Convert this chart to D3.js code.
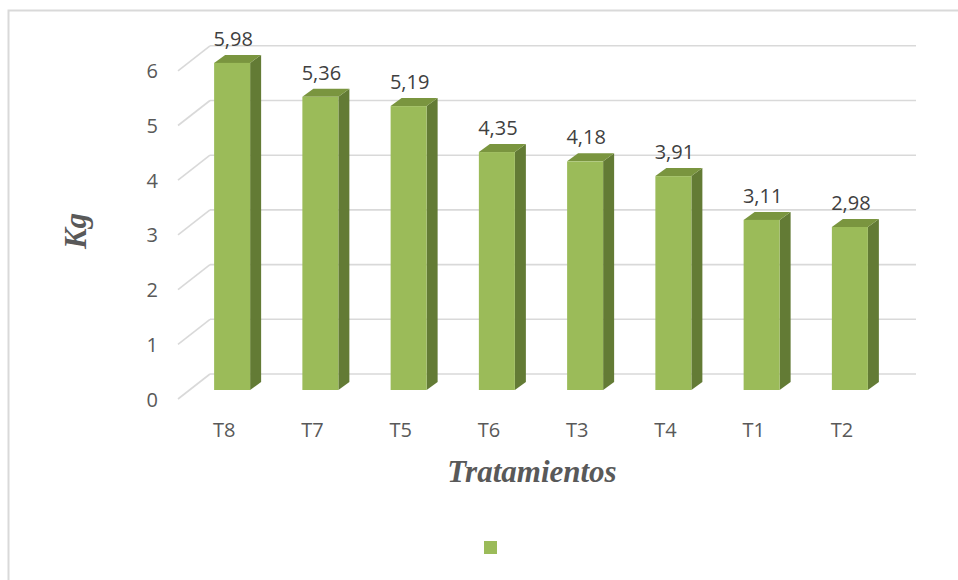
<!DOCTYPE html>
<html>
<head>
<meta charset="utf-8">
<script src="https://cdn.jsdelivr.net/npm/d3@7"></script>
<style>
  html, body { margin: 0; padding: 0; background: #fff; }
  svg { display: block; }
</style>
</head>
<body>
<svg id="chart" width="958" height="580"></svg>
<script>
const categories = ["T8", "T7", "T5", "T6", "T3", "T4", "T1", "T2"];
const values = [5.98, 5.36, 5.19, 4.35, 4.18, 3.91, 3.11, 2.98];
const valueLabels = ["5,98", "5,36", "5,19", "4,35", "4,18", "3,91", "3,11", "2,98"];
const yTicks = [0, 1, 2, 3, 4, 5, 6];
const xTitle = "Tratamientos";
const yTitle = "Kg";

const svg = d3.select("#chart");
const W = 958, H = 580;

// chart border
svg.append("rect").attr("x", 8.5).attr("y", 10.5)
  .attr("width", W + 20).attr("height", H + 20)
  .attr("fill", "none").attr("stroke", "#d9d9d9").attr("stroke-width", 2);

// 3D geometry
const floorLeft = 178, floorRight = 884;
const wallDX = 32, wallDY = -25;   // full floor depth (front -> back wall)
const barShiftX = 10, barShiftY = -9; // bar front plane inside floor
const barDX = 11, barDY = -8;     // bar depth

const y = d3.scaleLinear().domain([0, 6]).range([399, 399 - 6 * 54.7]);
const x = d3.scaleBand().domain(categories).range([floorLeft, floorRight])
  .paddingInner(0.592).paddingOuter(0.296);

const grid = svg.append("g");
yTicks.forEach(t => {
  const yf = y(t);
  grid.append("line")
    .attr("x1", floorLeft).attr("y1", yf)
    .attr("x2", floorLeft + wallDX).attr("y2", yf + wallDY)
    .attr("stroke", "#d9d9d9").attr("stroke-width", 1.6);
  grid.append("line")
    .attr("x1", floorLeft + wallDX).attr("y1", yf + wallDY)
    .attr("x2", floorRight + wallDX).attr("y2", yf + wallDY)
    .attr("stroke", "#d9d9d9").attr("stroke-width", 1.6);
});

// y tick labels
svg.append("g").selectAll("text").data(yTicks).join("text")
  .attr("x", 158).attr("y", d => y(d))
  .attr("text-anchor", "end").attr("dominant-baseline", "central")
  .attr("font-family", "'Open Sans', sans-serif").attr("font-size", 20)
  .attr("fill", "#595959")
  .text(d => d);

// bars
const bars = svg.append("g").selectAll("g").data(categories).join("g");
bars.each(function(c, i) {
  const g = d3.select(this);
  const x0 = x(c) + barShiftX, x1 = x0 + x.bandwidth();
  const yb = y(0) + barShiftY, yt = y(values[i]) + barShiftY;
  // side face
  g.append("path")
    .attr("d", `M${x1},${yb} L${x1 + barDX},${yb + barDY} L${x1 + barDX},${yt + barDY} L${x1},${yt} Z`)
    .attr("fill", "#637b35");
  // top face
  g.append("path")
    .attr("d", `M${x0},${yt} L${x0 + barDX},${yt + barDY} L${x1 + barDX},${yt + barDY} L${x1},${yt} Z`)
    .attr("fill", "#7a953f");
  // front face
  g.append("rect").attr("x", x0).attr("y", yt)
    .attr("width", x.bandwidth()).attr("height", yb - yt)
    .attr("fill", "#9bbb59");
  // value label
  g.append("text")
    .attr("x", (x0 + x1) / 2 + 1).attr("y", yt - 17)
    .attr("text-anchor", "middle")
    .attr("font-family", "'Open Sans', sans-serif").attr("font-size", 20)
    .attr("fill", "#404040")
    .text(valueLabels[i]);
});

// x category labels
svg.append("g").selectAll("text").data(categories).join("text")
  .attr("x", d => x(d) + x.bandwidth() / 2 + 2)
  .attr("y", 437)
  .attr("text-anchor", "middle")
  .attr("font-family", "'Open Sans', sans-serif").attr("font-size", 20)
  .attr("fill", "#595959")
  .text(d => d);

// axis titles
svg.append("text")
  .attr("x", 532).attr("y", 482)
  .attr("text-anchor", "middle")
  .attr("font-family", "'Liberation Serif', 'Times New Roman', serif")
  .attr("font-weight", "bold").attr("font-style", "italic")
  .attr("font-size", 31).attr("fill", "#595959")
  .text(xTitle);

svg.append("text")
  .attr("transform", "translate(86,231) rotate(-90)")
  .attr("text-anchor", "middle")
  .attr("font-family", "'Liberation Serif', 'Times New Roman', serif")
  .attr("font-weight", "bold").attr("font-style", "italic")
  .attr("font-size", 31).attr("fill", "#595959")
  .text(yTitle);

// legend marker
svg.append("rect").attr("x", 484).attr("y", 541)
  .attr("width", 13).attr("height", 13).attr("fill", "#9bbb59");
</script>
</body>
</html>
